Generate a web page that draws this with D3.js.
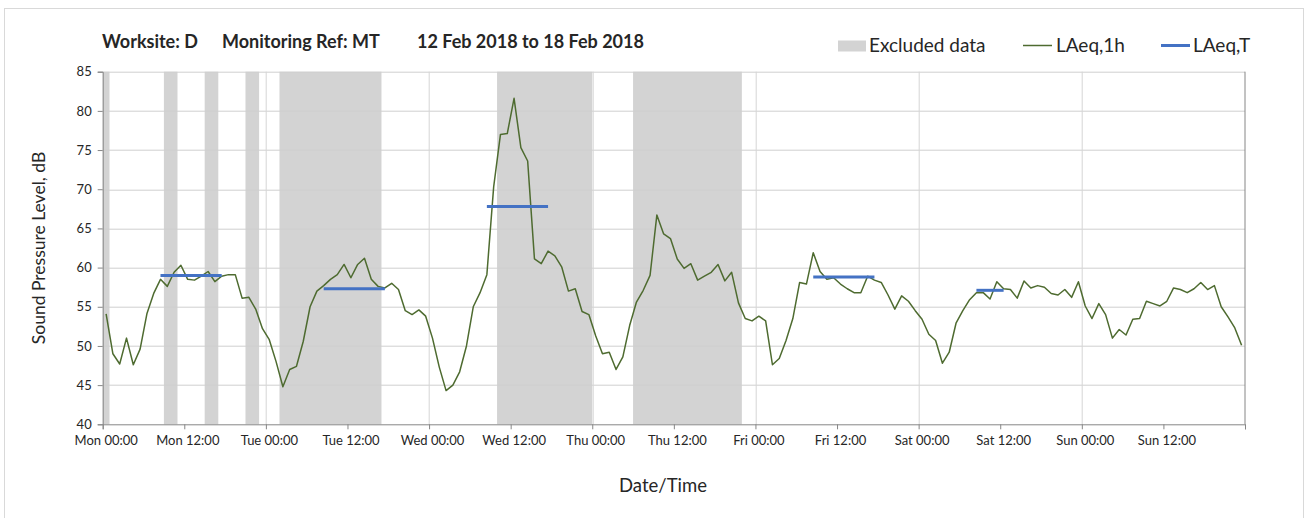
<!DOCTYPE html>
<html>
<head>
<meta charset="utf-8">
<script src="https://cdn.jsdelivr.net/npm/d3@7"></script>
<style>
  body { margin: 0; background: #fff; }
  text { font-family: Lato, "Open Sans", sans-serif; fill: #262626; }
  .axis path, .axis line { stroke: #868686; }
  .axis text { font-size: 13px; fill: #262626; }
</style>
</head>
<body>
<div id="chart"></div>
<script>
var svgWidth = 1309;
var svgHeight = 518;
var margin = { top: 71.7, right: 64, bottom: 93.7, left: 102.7 };
var width = svgWidth - margin.left - margin.right;
var height = svgHeight - margin.top - margin.bottom;

// hourly LAeq,1h values, Mon 00:00 .. Sun 23:00 (168 hours)
var laeq1h = [
  54.1, 49.0, 47.7, 51.0, 47.6, 49.6, 54.1, 56.7, 58.5, 57.6, 59.4, 60.3,
  58.5, 58.4, 58.9, 59.5, 58.2, 58.9, 59.1, 59.1, 56.1, 56.2, 54.7, 52.2,
  50.8, 48.0, 44.8, 47.0, 47.4, 50.6, 55.0, 57.0, 57.7, 58.5, 59.1, 60.4,
  58.7, 60.4, 61.2, 58.5, 57.6, 57.4, 58.0, 57.2, 54.5, 54.0, 54.6, 53.8,
  51.0, 47.3, 44.3, 45.0, 46.7, 50.0, 55.0, 56.8, 59.1, 70.3, 77.0, 77.1,
  81.6, 75.3, 73.6, 61.1, 60.5, 62.1, 61.5, 60.1, 57.0, 57.3, 54.4, 54.0,
  51.3, 49.0, 49.2, 47.0, 48.6, 52.6, 55.6, 57.1, 59.0, 66.7, 64.3, 63.7,
  61.1, 59.9, 60.5, 58.4, 58.9, 59.4, 60.4, 58.3, 59.4, 55.5, 53.5, 53.2,
  53.8, 53.2, 47.6, 48.4, 50.7, 53.5, 58.1, 57.9, 61.9, 59.5, 58.5, 58.7,
  57.9, 57.3, 56.8, 56.8, 58.9, 58.4, 58.1, 56.5, 54.7, 56.4, 55.7, 54.5,
  53.4, 51.5, 50.7, 47.8, 49.2, 52.9, 54.5, 55.9, 56.8, 56.8, 56.0, 58.2,
  57.3, 57.2, 56.1, 58.3, 57.4, 57.7, 57.5, 56.7, 56.5, 57.2, 56.2, 58.2,
  55.1, 53.5, 55.4, 54.0, 51.0, 52.1, 51.4, 53.4, 53.5, 55.7, 55.4, 55.1,
  55.7, 57.4, 57.2, 56.8, 57.3, 58.1, 57.2, 57.7, 55.0, 53.7, 52.3, 50.1
];

// excluded periods, [start hour, end hour]
var excludedStart = [0, 9, 15, 21, 26, 58, 78];
var excludedEnd = [1, 11, 17, 23, 41, 72, 94];

// LAeq,T periods: first hour, last hour, level
var laeqTStart = [8, 32, 56, 104, 128];
var laeqTEnd = [17, 41, 65, 113, 132];
var laeqTValue = [59.0, 57.3, 67.8, 58.8, 57.1];

var tickHours = [0, 12, 24, 36, 48, 60, 72, 84, 96, 108, 120, 132, 144, 156, 168];
var tickLabels = ["Mon 00:00", "Mon 12:00", "Tue 00:00", "Tue 12:00", "Wed 00:00",
  "Wed 12:00", "Thu 00:00", "Thu 12:00", "Fri 00:00", "Fri 12:00", "Sat 00:00",
  "Sat 12:00", "Sun 00:00", "Sun 12:00", ""];
var yTicks = [40, 45, 50, 55, 60, 65, 70, 75, 80, 85];

var svg = d3.select("#chart")
  .append("svg")
  .attr("width", svgWidth)
  .attr("height", svgHeight);

// outer chart border
svg.append("rect")
  .attr("x", 4.5).attr("y", 8.5)
  .attr("width", 1299).attr("height", 520)
  .attr("fill", "none")
  .attr("stroke", "#d9d9d9");

var chartGroup = svg.append("g")
  .attr("transform", `translate(${margin.left}, ${margin.top})`);

var xScale = d3.scaleLinear().domain([0, 168]).range([0, width]);
var yScale = d3.scaleLinear().domain([40, 85]).range([height, 0]);

// excluded data shading
chartGroup.selectAll(".excl")
  .data(excludedStart)
  .enter()
  .append("rect")
  .attr("class", "excl")
  .attr("x", d => xScale(d))
  .attr("y", 0)
  .attr("width", (d, i) => xScale(excludedEnd[i]) - xScale(d))
  .attr("height", height)
  .attr("fill", "#d3d3d3");

// gridlines
chartGroup.selectAll(".hgrid")
  .data(yTicks.slice(1))
  .enter()
  .append("line")
  .attr("x1", 0).attr("x2", width)
  .attr("y1", d => Math.round(yScale(d)) + 0.5)
  .attr("y2", d => Math.round(yScale(d)) + 0.5)
  .attr("stroke", "#cfcfcf");

chartGroup.selectAll(".vgrid")
  .data(tickHours.filter(d => d % 24 == 0 && d > 0 && d < 168))
  .enter()
  .append("line")
  .attr("y1", 0).attr("y2", height)
  .attr("x1", d => Math.round(xScale(d)) + 0.5)
  .attr("x2", d => Math.round(xScale(d)) + 0.5)
  .attr("stroke", "#d6d6d6");

// right border of plot area
chartGroup.append("line")
  .attr("x1", width).attr("x2", width)
  .attr("y1", 0).attr("y2", height)
  .attr("stroke", "#868686");

// axes
var bottomAxis = d3.axisBottom(xScale)
  .tickValues(tickHours)
  .tickSize(5)
  .tickFormat((d, i) => tickLabels[i]);
var leftAxis = d3.axisLeft(yScale)
  .tickValues(yTicks)
  .tickSize(5)
  .tickPadding(6);

chartGroup.append("g")
  .attr("class", "axis")
  .attr("transform", `translate(0, ${height})`)
  .call(bottomAxis)
  .call(g => g.selectAll("text").attr("dx", 3).attr("dy", "1.0em"));

chartGroup.append("g")
  .attr("class", "axis")
  .call(leftAxis)
  .call(g => g.selectAll("text").style("font-size", "13px"));

// LAeq,1h line
var line = d3.line()
  .x((d, i) => xScale(i + 0.5))
  .y(d => yScale(d));

chartGroup.append("path")
  .datum(laeq1h)
  .attr("d", line)
  .attr("fill", "none")
  .attr("stroke", "#4e6b30")
  .attr("stroke-width", 1.5)
  .attr("stroke-linejoin", "round");

// LAeq,T lines
chartGroup.selectAll(".laeqT")
  .data(laeqTValue)
  .enter()
  .append("line")
  .attr("x1", (d, i) => xScale(laeqTStart[i] + 0.5))
  .attr("x2", (d, i) => xScale(laeqTEnd[i] + 0.5))
  .attr("y1", d => yScale(d))
  .attr("y2", d => yScale(d))
  .attr("stroke", "#4472c4")
  .attr("stroke-width", 3);

// title
var title = svg.append("text")
  .attr("y", 48)
  .style("font-size", "18px")
  .style("font-weight", "bold");
title.append("tspan").attr("x", 102).text("Worksite: D");
title.append("tspan").attr("x", 222).text("Monitoring Ref: MT");
title.append("tspan").attr("x", 417).text("12 Feb 2018 to 18 Feb 2018");

// legend
svg.append("rect")
  .attr("x", 838).attr("y", 40.5)
  .attr("width", 28).attr("height", 11)
  .attr("fill", "#d3d3d3");
svg.append("text")
  .attr("x", 869).attr("y", 52)
  .style("font-size", "19px")
  .text("Excluded data");

svg.append("line")
  .attr("x1", 1023).attr("x2", 1052)
  .attr("y1", 45.5).attr("y2", 45.5)
  .attr("stroke", "#4e6b30").attr("stroke-width", 1.5);
svg.append("text")
  .attr("x", 1056).attr("y", 52)
  .style("font-size", "19px")
  .text("LAeq,1h");

svg.append("line")
  .attr("x1", 1161).attr("x2", 1190)
  .attr("y1", 45.5).attr("y2", 45.5)
  .attr("stroke", "#4472c4").attr("stroke-width", 3);
svg.append("text")
  .attr("x", 1193).attr("y", 52)
  .style("font-size", "19px")
  .text("LAeq,T");

// axis titles
svg.append("text")
  .attr("transform", "rotate(-90)")
  .attr("x", -248)
  .attr("y", 45)
  .attr("text-anchor", "middle")
  .style("font-size", "17.5px")
  .text("Sound Pressure Level, dB");

svg.append("text")
  .attr("x", 663)
  .attr("y", 492)
  .attr("text-anchor", "middle")
  .style("font-size", "18.5px")
  .text("Date/Time");
</script>
</body>
</html>
